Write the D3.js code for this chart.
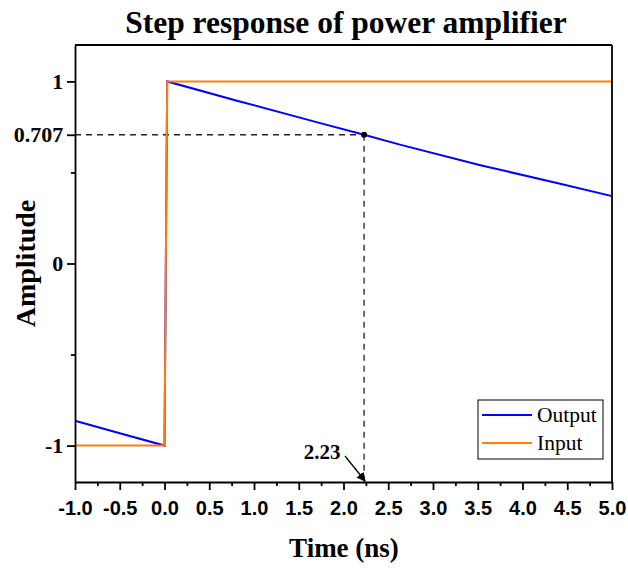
<!DOCTYPE html>
<html>
<head>
<meta charset="utf-8">
<script src="https://cdn.jsdelivr.net/npm/d3@7"></script>
<style>
  body { margin: 0; background: #fff; }
  svg { display: block; }
</style>
</head>
<body>
<div id="chart"></div>
<script>
// données
const outputT = [-1.0, -0.5, 0.0, 0.03, 0.84, 1.74, 2.23, 2.63, 3.53, 4.42, 5.0];
const outputV = [-0.864, -0.932, -1.0, 1.0, 0.890, 0.771, 0.707, 0.653, 0.540, 0.438, 0.370];
const inputT = [-1.0, 0.0, 0.03, 5.0];
const inputV = [-1.0, -1.0, 1.0, 1.0];
const xTicks = [-1.0, -0.5, 0.0, 0.5, 1.0, 1.5, 2.0, 2.5, 3.0, 3.5, 4.0, 4.5, 5.0];
const yTicks = [-1, 0, 0.707, 1];
const yMinor = [-0.5, 0.5];
const cutT = 2.23;
const cutV = 0.707;
const seriesNames = ['Output', 'Input'];
const seriesColors = ['#0000ff', '#ff7f0e'];

const largura = 628, altura = 571;
const margem = { top: 45, right: 16, bottom: 89, left: 75 };

const svg = d3.select('#chart')
    .append('svg')
    .attr('width', largura)
    .attr('height', altura);

const x = d3.scaleLinear().domain([-1, 5]).range([margem.left, largura - margem.right]);
const y = d3.scaleLinear().domain([-1.2, 1.2]).range([altura - margem.bottom, margem.top]);

const serif = '"Liberation Serif", "Times New Roman", serif';
const sans = '"Liberation Sans", Arial, sans-serif';
const hifen = s => s.replace('\u2212', '-');

// titre
svg.append('text')
    .attr('x', 346).attr('y', 33)
    .attr('text-anchor', 'middle')
    .attr('font-family', serif).attr('font-weight', 'bold').attr('font-size', 31.5)
    .text('Step response of power amplifier');

// lignes pointillées
svg.append('line')
    .attr('x1', x(-1)).attr('x2', x(cutT))
    .attr('y1', y(cutV)).attr('y2', y(cutV))
    .attr('stroke', '#222').attr('stroke-width', 1.3).attr('stroke-dasharray', '6,5');
svg.append('line')
    .attr('x1', x(cutT)).attr('x2', x(cutT))
    .attr('y1', y(cutV)).attr('y2', y(-1.2))
    .attr('stroke', '#222').attr('stroke-width', 1.3).attr('stroke-dasharray', '6,5');

// courbes
const line = d3.line().x(d => x(d[0])).y(d => y(d[1]));
svg.append('path')
    .datum(outputT.map((t, i) => [t, outputV[i]]))
    .attr('d', line)
    .attr('fill', 'none').attr('stroke', seriesColors[0]).attr('stroke-width', 2);
svg.append('path')
    .datum(inputT.map((t, i) => [t, inputV[i]]))
    .attr('d', line)
    .attr('fill', 'none').attr('stroke', seriesColors[1]).attr('stroke-width', 2);

svg.append('circle')
    .attr('cx', x(cutT)).attr('cy', y(cutV)).attr('r', 3)
    .attr('fill', '#000');

// axes
const xAxis = svg.append('g')
    .attr('transform', `translate(0,${y(-1.2)})`)
    .call(d3.axisBottom(x).tickValues(xTicks).tickFormat(d => hifen(d3.format('.1f')(d))).tickSize(8).tickSizeOuter(0));
xAxis.selectAll('text')
    .attr('font-family', sans).attr('font-weight', 'bold').attr('font-size', 20).attr('dy', '1.1em');
svg.append('g')
    .attr('transform', `translate(0,${y(-1.2)})`)
    .call(d3.axisBottom(x).tickValues(d3.range(-0.75, 5, 0.5)).tickFormat('').tickSize(4).tickSizeOuter(0))
    .call(g => g.select('.domain').remove());

const yAxis = svg.append('g')
    .attr('transform', `translate(${x(-1)},0)`)
    .call(d3.axisLeft(y).tickValues(yTicks).tickFormat(d => d === 0.707 ? '0.707' : hifen(d3.format('d')(d))).tickSize(8).tickSizeOuter(0));
yAxis.selectAll('text')
    .attr('font-family', serif).attr('font-weight', 'bold').attr('font-size', 22).attr('dx', '-0.03em');
svg.append('g')
    .attr('transform', `translate(${x(-1)},0)`)
    .call(d3.axisLeft(y).tickValues(yMinor).tickFormat('').tickSize(4).tickSizeOuter(0))
    .call(g => g.select('.domain').remove());

svg.selectAll('.domain, .tick line').attr('stroke', '#000').attr('stroke-width', 1.8);

// cadre
svg.append('line')
    .attr('x1', x(-1)).attr('x2', x(5)).attr('y1', y(1.2)).attr('y2', y(1.2))
    .attr('stroke', '#000').attr('stroke-width', 1.8);
svg.append('line')
    .attr('x1', x(5)).attr('x2', x(5)).attr('y1', y(1.2)).attr('y2', y(-1.2))
    .attr('stroke', '#000').attr('stroke-width', 1.8);

// titres des axes
svg.append('text')
    .attr('x', 344).attr('y', 557)
    .attr('text-anchor', 'middle')
    .attr('font-family', serif).attr('font-weight', 'bold').attr('font-size', 27)
    .text('Time (ns)');
svg.append('text')
    .attr('transform', `translate(35,${y(0)}) rotate(-90)`)
    .attr('text-anchor', 'middle')
    .attr('font-family', serif).attr('font-weight', 'bold').attr('font-size', 28)
    .text('Amplitude');

// annotation 2.23
svg.append('defs').append('marker')
    .attr('id', 'fleche')
    .attr('viewBox', '0 0 10 10')
    .attr('refX', 9).attr('refY', 5)
    .attr('markerWidth', 7).attr('markerHeight', 7)
    .attr('orient', 'auto')
    .append('path').attr('d', 'M0,0 L10,5 L0,10 Z').attr('fill', '#000');
svg.append('text')
    .attr('x', 322).attr('y', 459)
    .attr('text-anchor', 'middle')
    .attr('font-family', serif).attr('font-weight', 'bold').attr('font-size', 21)
    .text(cutT.toFixed(2));
svg.append('line')
    .attr('x1', 345).attr('y1', 456)
    .attr('x2', x(cutT) + 1).attr('y2', y(-1.2) - 1)
    .attr('stroke', '#000').attr('stroke-width', 1.3)
    .attr('marker-end', 'url(#fleche)');

// légende
const leg = svg.append('g').attr('transform', 'translate(478,400)');
leg.append('rect')
    .attr('width', 125).attr('height', 59)
    .attr('fill', '#fff').attr('stroke', '#000').attr('stroke-width', 1);
seriesNames.forEach((n, i) => {
    const yy = 15 + i * 28;
    leg.append('line')
        .attr('x1', 4).attr('x2', 54).attr('y1', yy).attr('y2', yy)
        .attr('stroke', seriesColors[i]).attr('stroke-width', 2);
    leg.append('text')
        .attr('x', 59).attr('y', yy + 7)
        .attr('font-family', serif).attr('font-size', 21.5)
        .text(n);
});
</script>
</body>
</html>
